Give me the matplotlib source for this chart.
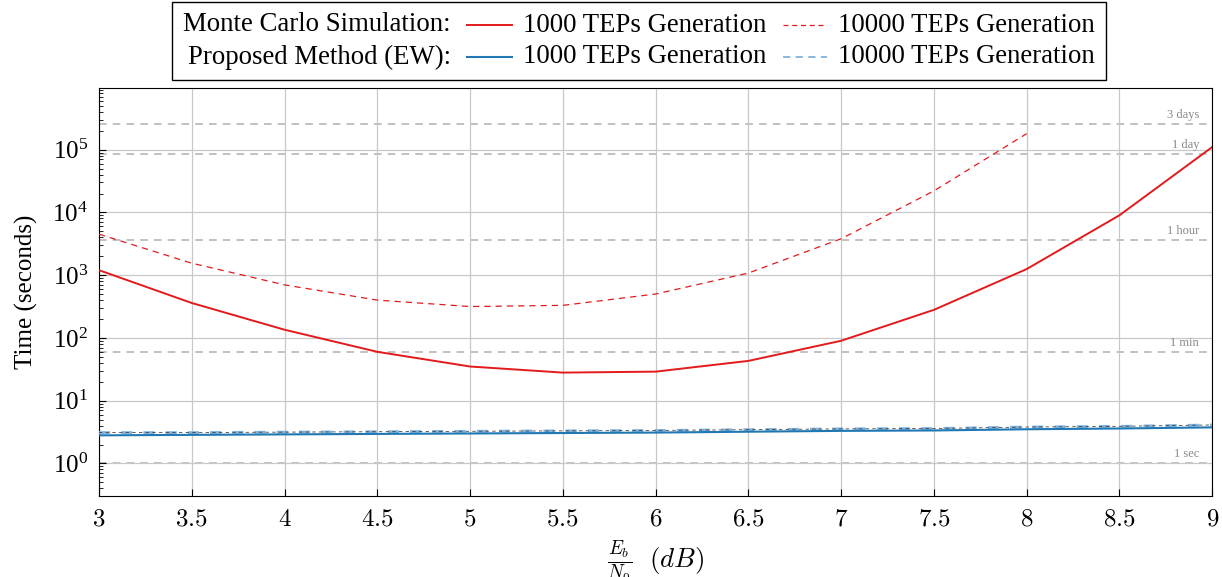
import numpy as np
import matplotlib.pyplot as plt
from matplotlib.lines import Line2D
from matplotlib.offsetbox import (TextArea, DrawingArea, HPacker, VPacker,
                                  AnchoredOffsetbox)

plt.rcParams['font.family'] = ['Liberation Serif', 'DejaVu Serif']
plt.rcParams['mathtext.fontset'] = 'cm'

# Eb/N0 (dB)
snr = [3, 3.5, 4, 4.5, 5, 5.5, 6, 6.5, 7, 7.5, 8, 8.5, 9]
snr_mc10k = [3, 3.5, 4, 4.5, 5, 5.5, 6, 6.5, 7, 7.5, 8]

# Time (seconds)
mc_1000 = [1200, 360, 135, 60, 35, 28, 29, 43, 90, 280, 1250, 9000, 110000]
mc_10000 = [4500, 1550, 700, 400, 316, 330, 500, 1080, 3800, 22000, 180000]
ew_1000 = [2.8, 2.85, 2.9, 2.95, 3.0, 3.05, 3.1, 3.2, 3.3, 3.35, 3.5, 3.6, 3.75]
ew_10000 = [3.1, 3.1, 3.15, 3.2, 3.25, 3.3, 3.35, 3.45, 3.55, 3.6, 3.8, 3.9, 4.1]

# reference durations
ref_vals = [1, 60, 3600, 86400, 259200]
ref_names = ['1 sec', '1 min', '1 hour', '1 day', '3 days']

RED = '#e31a1c'
BLUE = '#1f77b4'
LBLUE = '#7fb2dc'
FS = 18
LFS = 19.3

fig = plt.figure(figsize=(12.22, 5.77), dpi=100)
ax = fig.add_axes([0.081, 0.140, 0.911, 0.707])

ax.set_yscale('log')
ax.set_xlim(3, 9)
ax.set_ylim(0.3, 9.5e5)

for v, name in zip(ref_vals, ref_names):
    ax.axhline(v, color='#b0b0b0', linestyle=(0, (5, 4)), linewidth=1.1, zorder=1)
    ax.text(8.93, v * 1.12, name, color='#888888', fontsize=9,
            ha='right', va='bottom', zorder=2)

ax.plot(snr, mc_1000, color=RED, linewidth=1.4, zorder=4)
ax.plot(snr_mc10k, mc_10000, color=RED, linewidth=0.9,
        linestyle=(0, (5, 4)), zorder=4)
ax.plot(snr, ew_10000, color=LBLUE, linewidth=2.0,
        linestyle=(0, (4, 4)), zorder=4)
ax.plot(snr, ew_10000, color='#444444', linewidth=0.6,
        linestyle=(0, (4, 4)), zorder=4)
ax.plot(snr, ew_1000, color=BLUE, linewidth=1.5, zorder=5)

ax.set_xticks(snr)
ax.set_xticklabels([('$%g$' % s) for s in snr])
ax.grid(True, which='major', color='#c8c8c8', linewidth=0.9)
ax.tick_params(which='both', direction='in', labelsize=FS)
ax.tick_params(axis='y', which='minor', length=3)
ax.tick_params(which='major', length=5)
ax.tick_params(axis='x', pad=9)
ax.tick_params(axis='y', pad=8)

ax.set_ylabel('Time (seconds)', fontsize=FS, labelpad=10)
ax.set_xlabel(r'$\frac{E_b}{N_0}\ \ (dB)$', fontsize=19.5, labelpad=6)


# legend laid out like the pgfplots one: "name: [line] text [line] text"
def entry(text, **kw):
    da = DrawingArea(32, 12, 0, 0)
    da.add_artist(Line2D([0, 32], [6, 6], **kw))
    return HPacker(children=[da, TextArea(text, textprops=dict(fontsize=LFS))],
                   pad=0, sep=8, align='center')


col1 = VPacker(children=[TextArea('Monte Carlo Simulation:', textprops=dict(fontsize=LFS)),
                         TextArea('Proposed Method (EW):', textprops=dict(fontsize=LFS))],
               pad=0, sep=5, align='right')
col2 = VPacker(children=[entry('1000 TEPs Generation', color=RED, linewidth=1.4),
                         entry('1000 TEPs Generation', color=BLUE, linewidth=1.5)],
               pad=0, sep=5, align='left')
col3 = VPacker(children=[entry('10000 TEPs Generation', color=RED, linewidth=0.9,
                               linestyle=(0, (4, 3))),
                         entry('10000 TEPs Generation', color=LBLUE, linewidth=1.3,
                               linestyle=(0, (4, 3)))],
               pad=0, sep=5, align='left')
row = HPacker(children=[col1, col2, col3], pad=0, sep=12, align='center')
leg = AnchoredOffsetbox(loc='upper center', child=row, pad=0.4, borderpad=0,
                        frameon=True, bbox_to_anchor=(0.523, 0.997),
                        bbox_transform=fig.transFigure, prop=dict(size=LFS))
leg.patch.set_boxstyle('square', pad=0)
leg.patch.set_edgecolor('black')
leg.patch.set_linewidth(1.0)
fig.add_artist(leg)

fig.savefig('out.png', dpi=100)
